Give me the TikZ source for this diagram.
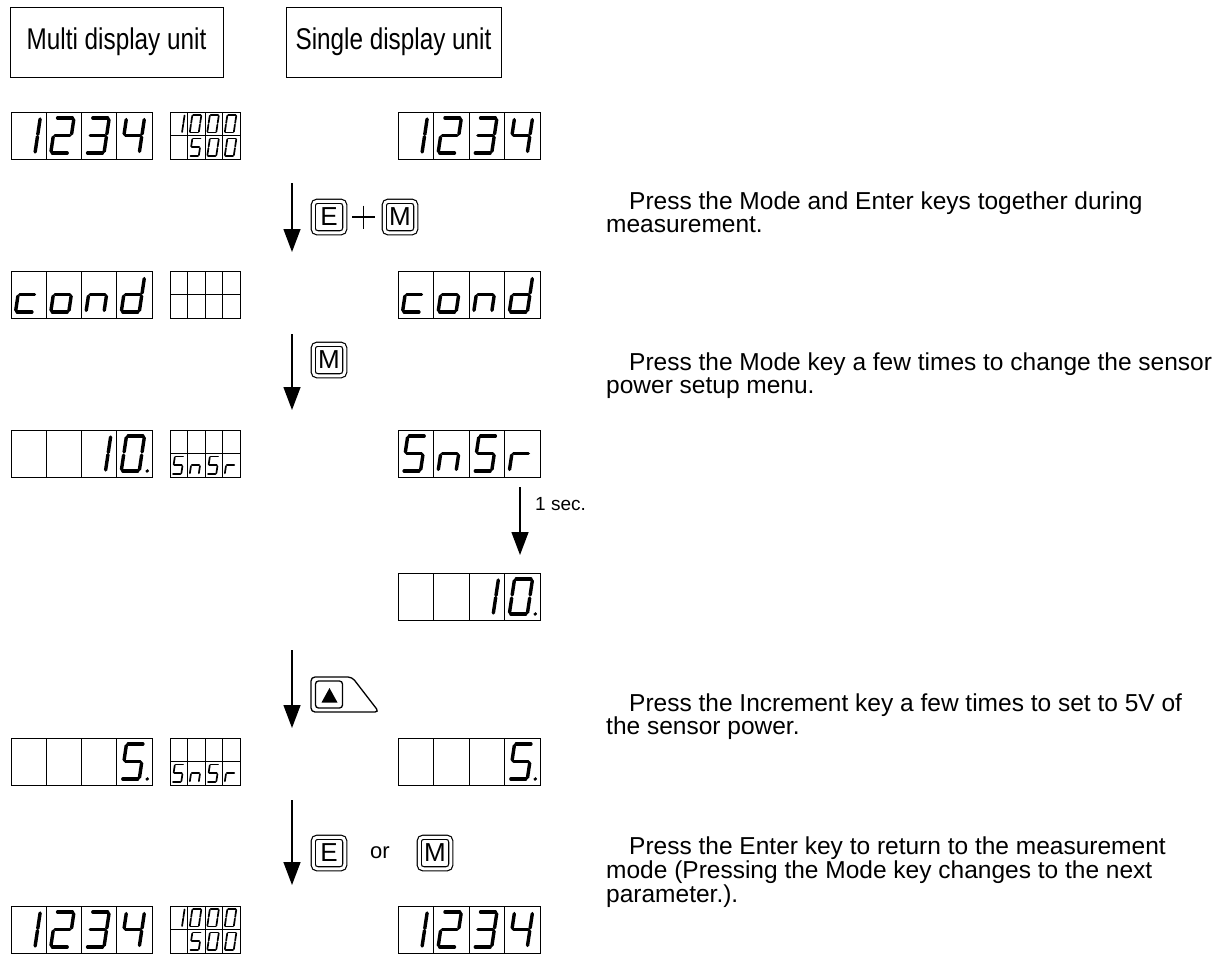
\documentclass[tikz,border=0pt]{standalone}
\usepackage{fontspec}
\setmainfont{Liberation Sans}
\newfontfamily\labelfont[FakeStretch=0.81]{Liberation Sans}
\newfontfamily\bodyfont{Liberation Sans}
\usetikzlibrary{arrows.meta}

\newcommand\dseg[1]{%
 \if a#1\draw[segline] (1.6,35) -- (16.4,35);\fi
 \if b#1\draw[segline] (18,33.4) -- (18,19.1);\fi
 \if c#1\draw[segline] (18,15.9) -- (18,1.6);\fi
 \if d#1\draw[segline] (1.6,0) -- (16.4,0);\fi
 \if e#1\draw[segline] (0,1.6) -- (0,15.9);\fi
 \if f#1\draw[segline] (0,19.1) -- (0,33.4);\fi
 \if g#1\draw[segline] (1.6,17.5) -- (16.4,17.5);\fi
 \if B#1\draw[segline] (19.5,34) -- (19.5,18.6);\fi
 \if C#1\draw[segline] (19.5,16.4) -- (19.5,1);\fi
 \if p#1\fill (26,0) circle[radius=1.9];\fi
}
\newcommand\dig[4]{%
 \begin{scope}[shift={(#1+4.5*#3,#2+41*#3)},x={(#3pt,0pt)},y={(0.15*#3pt,#3pt)},
   segline/.style={line width=3.4*#3pt,line cap=round}]
 \foreach \s in {#4}{\dseg{\s}}
 \end{scope}}
\newcommand\cellrow[4]{%
 \draw[cellbox] (#1,#2) rectangle ++(4*#3,#4);
 \foreach \k in {1,2,3}{\draw[cellbox] ({#1+\k*#3},#2) -- ++(0,#4);}}
\newcommand\multimain[1]{\cellrow{11}{#1}{35.25}{47}}
\newcommand\smalldisp[1]{\cellrow{170}{#1}{17.5}{23.5}\cellrow{170}{#1+23.5}{17.5}{23.5}}
\newcommand\singledisp[1]{\cellrow{398}{#1}{35.6}{47}}
\newcommand\onetwothreefour[3]{%
 \dig{#1}{#3}{1}{B,C}\dig{#1+#2}{#3}{1}{a,b,g,e,d}%
 \dig{#1+2*#2}{#3}{1}{a,b,g,c,d}\dig{#1+3*#2}{#3}{1}{f,g,b,c}}
\newcommand\cond[3]{%
 \dig{#1}{#3}{1}{g,e,d}\dig{#1+#2}{#3}{1}{g,c,d,e}%
 \dig{#1+2*#2}{#3}{1}{g,e,c}\dig{#1+3*#2}{#3}{1}{b,c,d,e,g}}
\newcommand\snsr[4]{% x cw top scale
 \dig{#1}{#3}{#4}{a,f,g,c,d}\dig{#1+#2}{#3}{#4}{g,e,c}%
 \dig{#1+2*#2}{#3}{#4}{a,f,g,c,d}\dig{#1+3*#2}{#3}{#4}{e,g}}
\newcommand\smallthousand[1]{%
 \dig{170}{#1}{0.5}{B,C}\dig{187.5}{#1}{0.5}{a,b,c,d,e,f}%
 \dig{205}{#1}{0.5}{a,b,c,d,e,f}\dig{222.5}{#1}{0.5}{a,b,c,d,e,f}%
 \dig{187.5}{#1+23.5}{0.5}{a,f,g,c,d}\dig{205}{#1+23.5}{0.5}{a,b,c,d,e,f}%
 \dig{222.5}{#1+23.5}{0.5}{a,b,c,d,e,f}}

\tikzset{
 cellbox/.style={draw,line width=1pt},
 flow/.style={line width=1.4pt,-{Triangle[length=23pt,width=17pt]}},
 key/.style={draw,double,double distance=3pt,line width=1.2pt,rounded corners=4pt,
   minimum width=31.5,minimum height=31.5,inner sep=0pt,font=\fontsize{26}{26}\selectfont},
 unitlabel/.style={draw,line width=1pt,minimum height=70,inner sep=0pt,
   font=\labelfont\fontsize{30}{32}\selectfont},
 body/.style={font=\bodyfont\fontsize{24.5}{26}\selectfont,anchor=base west,inner sep=0pt},
}

\begin{document}
\begin{tikzpicture}[x=1pt,y=-1pt]
\useasboundingbox (0,0) rectangle (1220,953);
\fill[white] (0,0) rectangle (1220,953);
\clip (0,0) rectangle (1220,953);

% headers
\node[unitlabel,minimum width=213] (mdu) at (116.5,42) {Multi display unit};
\node[unitlabel,minimum width=215] (sdu) at (393.5,42) {Single display unit};

% row 1
\multimain{112}\smalldisp{112}\singledisp{112}
\onetwothreefour{11}{35.25}{112}\smallthousand{112}
\onetwothreefour{398}{35.6}{112}

% arrow 1
\coordinate (a1s) at (292,183); \coordinate (a1e) at (292,252);
\draw[flow] (a1s) -- (a1e);
\node[key] (e1) at (329,217) {E};
\draw[line width=1.2pt] (352,217) -- (375,217) (363.5,205.5) -- (363.5,228.5);
\node[key] (m1) at (400,217) {M};
\node[body] (t1a) at (629,209) {Press the Mode and Enter keys together during};
\node[body] (t1b) at (606,232) {measurement.};

% row 2
\multimain{271}\smalldisp{271}\singledisp{271}
\cond{11}{35.25}{271}\cond{398}{35.6}{271}

% arrow 2
\coordinate (a2s) at (292,334); \coordinate (a2e) at (292,410);
\draw[flow] (a2s) -- (a2e);
\node[key] (m2) at (329,360) {M};
\node[body] (t2a) at (629,370) {Press the Mode key a few times to change the sensor};
\node[body] (t2b) at (606,393) {power setup menu.};

% row 3
\multimain{430}\smalldisp{430}\singledisp{430}
\dig{81.5}{430}{1}{B,C}\dig{116.75}{430}{1}{a,b,c,d,e,f,p}
\snsr{170}{17.5}{453.5}{0.5}
\snsr{398}{35.6}{430}{1}

% arrow 3
\coordinate (a3s) at (520,487); \coordinate (a3e) at (520,555);
\draw[flow] (a3s) -- (a3e);
\node[font=\bodyfont\fontsize{19}{21}\selectfont,anchor=base west,inner sep=0pt] (sec) at (535,510) {1 sec.};

% row 4
\singledisp{573}
\dig{469.2}{573}{1}{B,C}\dig{504.8}{573}{1}{a,b,c,d,e,f,p}

% arrow 4
\coordinate (a4s) at (292,650); \coordinate (a4e) at (292,728);
\draw[flow] (a4s) -- (a4e);
\draw[line width=1.3pt,rounded corners=4pt] (311,677) -- (352,677) -- (379,712) -- (311,712) -- cycle;
\draw[line width=1.3pt,rounded corners=3pt] (315.5,681) rectangle (342.5,708);
\fill (329.5,688) -- (337.5,702.5) -- (321.5,702.5) -- cycle;
\node[body] (t3a) at (629,711) {Press the Increment key a few times to set to 5V of};
\node[body] (t3b) at (606,734) {the sensor power.};

% row 5
\multimain{738}\smalldisp{738}\singledisp{738}
\dig{116.75}{738}{1}{a,f,g,c,d,p}
\snsr{170}{17.5}{761.5}{0.5}
\dig{504.8}{738}{1}{a,f,g,c,d,p}

% arrow 5
\coordinate (a5s) at (292,800); \coordinate (a5e) at (292,885);
\draw[flow] (a5s) -- (a5e);
\node[key] (e5) at (329,853) {E};
\node[font=\fontsize{22}{22}\selectfont] (or) at (380,853) {or};
\node[key] (m5) at (435,853) {M};
\node[body] (t4a) at (629,854) {Press the Enter key to return to the measurement};
\node[body] (t4b) at (606,878) {mode (Pressing the Mode key changes to the next};
\node[body] (t4c) at (606,902) {parameter.).};

% row 6
\multimain{906}\smalldisp{906}\singledisp{906}
\onetwothreefour{11}{35.25}{906}\smallthousand{906}
\onetwothreefour{398}{35.6}{906}
\end{tikzpicture}
\end{document}
